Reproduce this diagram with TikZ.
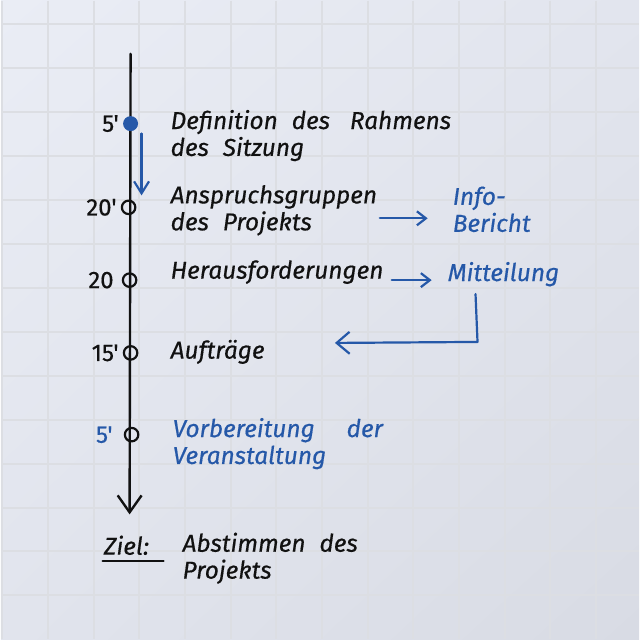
\documentclass[tikz,border=0pt]{standalone}
\usepackage{fontspec}
\setmainfont{Fira Sans}
\newfontfamily\handfont{Fira Sans}[FakeBold=0.5]
\newcommand\handtext{\handfont\itshape\fontsize{24.5}{27}\selectfont\spaceskip=14pt plus 2pt\relax}
\usetikzlibrary{arrows.meta,positioning,shadings}
\definecolor{PaperTL}{HTML}{EAEDF5}
\definecolor{PaperTR}{HTML}{E2E5EE}
\definecolor{PaperBL}{HTML}{E1E4ED}
\definecolor{PaperBR}{HTML}{D8DBE4}
\definecolor{GridClr}{HTML}{DCDEE3}
\definecolor{InkClr}{HTML}{111111}
\definecolor{PenClr}{HTML}{2558A8}

\begin{document}
\begin{tikzpicture}[x=1pt,y=-1pt,
  ink/.style={line width=2.4pt,line cap=round,line join=round,color=InkClr},
  pen/.style={line width=2.2pt,line cap=round,line join=round,color=PenClr},
  txt/.style={anchor=west,inner sep=0pt,align=left,text=InkClr,font=\handtext},
  mins/.style={inner sep=0pt,text=InkClr,font=\handfont\fontsize{24}{26}\selectfont},
  ring/.style={circle,draw=InkClr,line width=2.2pt,inner sep=0pt,minimum size=13.5pt},
  dot/.style={circle,fill=PenClr,inner sep=0pt,minimum size=15pt}]

% Paper with its grid.
\shade[upper left=PaperTL,upper right=PaperTR,lower left=PaperBL,lower right=PaperBR]
  (0,0) rectangle (640,640);
\foreach \i in {0,...,13} {
  \draw[GridClr,line width=2pt] (1.2+45.83*\i,0) -- (1.2+45.83*\i,640);
  \draw[GridClr,line width=2pt] (0,23+44.1*\i) -- (640,23+44.1*\i);
}
\useasboundingbox (0,0) rectangle (640,640);

% The time line.
\coordinate (top) at (130,53);
\coordinate (bot) at (129,515);
\draw[ink,-{Straight Barb[length=17pt,width=24pt,line width=2.4pt]}] (top) -- (bot);

% Marks on the line.
\node[dot] (m1) at (130,123) {};
\node[ring] (m2) at (128,207) {};
\node[ring] (m3) at (129,280) {};
\node[ring] (m4) at (130,353) {};
\node[ring] (m5) at (131,435) {};

\node[mins,left=4pt of m1] (t1) {5'};
\node[mins,left=4pt of m2] (t2) {20'};
\node[mins,left=8pt of m3] (t3) {20};
\node[mins,left=4pt of m4] (t4) {15'};
\node[mins,left=11pt of m5,text=PenClr] (t5) {5'};

% Short arrow beside the first step.
\coordinate (sa) at (141,133);
\coordinate (sb) at (141,195);
\draw[pen,-{Straight Barb[length=12pt,width=15pt,line width=2.2pt]}] (sa) -- (sb);

% Steps.
\node[txt] (s1) at (170,135) {Definition des\hspace{6pt} Rahmens\\des Sitzung};
\node[txt] (s2) at (170,210) {Anspruchsgruppen\\des Projekts};
\node[txt] (s3) at (170,272) {Herausforderungen};
\node[txt] (s4) at (170,352) {Aufträge};
\node[txt,text=PenClr] (s5) at (172,444) {Vorbereitung\hspace{18pt} der\\Veranstaltung};

% Goal.
\node[txt] (ziel) at (103,546) {Ziel:};
\node[txt] (goal) at (182,559) {Abstimmen des\\Projekts};
\coordinate (ua) at (102,562);
\coordinate (ub) at (163,562);
\draw[ink] (ua) -- (ub);

% Reports on the right.
\node[txt,text=PenClr] (info) at (453,209) {Info-\\Bericht};
\node[txt,text=PenClr] (mitt) at (448,274) {Mitteilung};

\coordinate (a1) at (380,218);
\coordinate (a2) at (428,218);
\draw[pen,-{Straight Barb[length=9pt,width=14pt,line width=2.2pt]}] (a1) -- (a2);
\coordinate (b1) at (392,280);
\coordinate (b2) at (432,280);
\draw[pen,-{Straight Barb[length=9pt,width=14pt,line width=2.2pt]}] (b1) -- (b2);
\coordinate (c1) at (476,294);
\coordinate (c2) at (478,342);
\coordinate (c3) at (335,343);
\draw[pen,-{Straight Barb[length=13pt,width=22pt,line width=2.2pt]}] (c1) -- (c2) -- (c3);

\end{tikzpicture}
\end{document}
